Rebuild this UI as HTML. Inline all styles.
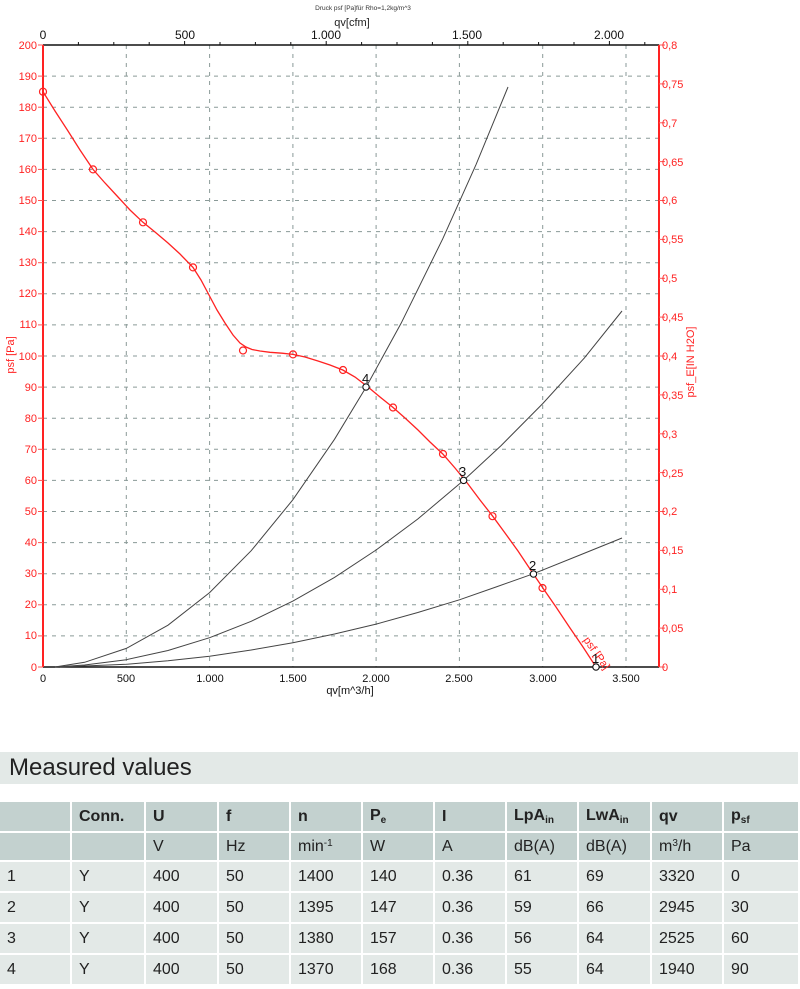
<!DOCTYPE html>
<html><head><meta charset="utf-8"><style>
body{margin:0;background:#fff;width:800px;height:989px;overflow:hidden;font-family:"Liberation Sans",sans-serif}
svg text{font-family:"Liberation Sans",sans-serif}
.title{position:absolute;left:0;top:752px;width:798px;height:32px;background:#e3e9e7;font-size:24px;line-height:32px;color:#222;font-family:"Liberation Sans Narrow","Liberation Sans",sans-serif}
.title span{padding-left:9px}
table{position:absolute;left:0;top:802px;border-collapse:separate;border-spacing:2px;margin:-2px;font-size:16px;color:#222;font-family:"Liberation Sans Narrow","Liberation Sans",sans-serif}
td{padding:0 0 0 7px;height:29px;vertical-align:middle}
tr.h td{background:#c3d1cf;font-weight:bold;height:29px}
tr.u td{background:#c3d1cf;height:27px}
tr.d td{background:#e3e9e7}
sub{font-size:10px;vertical-align:-3px}
sup{font-size:10px;vertical-align:5px}
</style></head><body>
<svg width="800" height="740" style="position:absolute;left:0;top:0">
<text x="363" y="10" font-size="6.5" fill="#333" text-anchor="middle">Druck psf  [Pa]für Rho=1,2kg/m^3</text>
<text x="352" y="26" font-size="11" fill="#222" text-anchor="middle">qv[cfm]</text>
<g stroke="#8a9a98" stroke-width="1" stroke-dasharray="4,5">
<line x1="126.3" y1="45" x2="126.3" y2="667"/><line x1="209.6" y1="45" x2="209.6" y2="667"/><line x1="292.9" y1="45" x2="292.9" y2="667"/><line x1="376.1" y1="45" x2="376.1" y2="667"/><line x1="459.4" y1="45" x2="459.4" y2="667"/><line x1="542.7" y1="45" x2="542.7" y2="667"/><line x1="626" y1="45" x2="626" y2="667"/>
<line x1="43" y1="76.1" x2="658" y2="76.1"/><line x1="43" y1="107.2" x2="658" y2="107.2"/><line x1="43" y1="138.3" x2="658" y2="138.3"/><line x1="43" y1="169.4" x2="658" y2="169.4"/><line x1="43" y1="200.5" x2="658" y2="200.5"/><line x1="43" y1="231.6" x2="658" y2="231.6"/><line x1="43" y1="262.7" x2="658" y2="262.7"/><line x1="43" y1="293.8" x2="658" y2="293.8"/><line x1="43" y1="324.9" x2="658" y2="324.9"/><line x1="43" y1="356" x2="658" y2="356"/><line x1="43" y1="387.1" x2="658" y2="387.1"/><line x1="43" y1="418.2" x2="658" y2="418.2"/><line x1="43" y1="449.3" x2="658" y2="449.3"/><line x1="43" y1="480.4" x2="658" y2="480.4"/><line x1="43" y1="511.5" x2="658" y2="511.5"/><line x1="43" y1="542.6" x2="658" y2="542.6"/><line x1="43" y1="573.7" x2="658" y2="573.7"/><line x1="43" y1="604.8" x2="658" y2="604.8"/><line x1="43" y1="635.9" x2="658" y2="635.9"/>
</g>
<line x1="43" y1="45" x2="659" y2="45" stroke="#111" stroke-width="1.5"/>
<line x1="43" y1="667" x2="659" y2="667" stroke="#111" stroke-width="1.5"/>
<g stroke="#111" stroke-width="1">
<line x1="78.4" y1="42" x2="78.4" y2="45"/><line x1="113.8" y1="42" x2="113.8" y2="45"/><line x1="149.2" y1="42" x2="149.2" y2="45"/><line x1="184.6" y1="41" x2="184.6" y2="45"/><line x1="220" y1="42" x2="220" y2="45"/><line x1="255.4" y1="42" x2="255.4" y2="45"/><line x1="290.8" y1="42" x2="290.8" y2="45"/><line x1="326.2" y1="41" x2="326.2" y2="45"/><line x1="361.6" y1="42" x2="361.6" y2="45"/><line x1="397" y1="42" x2="397" y2="45"/><line x1="432.4" y1="42" x2="432.4" y2="45"/><line x1="467.8" y1="41" x2="467.8" y2="45"/><line x1="503.2" y1="42" x2="503.2" y2="45"/><line x1="538.6" y1="42" x2="538.6" y2="45"/><line x1="574" y1="42" x2="574" y2="45"/><line x1="609.4" y1="41" x2="609.4" y2="45"/><line x1="644.8" y1="42" x2="644.8" y2="45"/>
</g>
<g font-size="12" fill="#111" text-anchor="middle">
<text x="43" y="39">0</text><text x="185" y="39">500</text><text x="326" y="39">1.000</text><text x="467" y="39">1.500</text><text x="609" y="39">2.000</text>
<text x="43" y="682" font-size="11">0</text><text x="126" y="682" font-size="11">500</text><text x="210" y="682" font-size="11">1.000</text><text x="293" y="682" font-size="11">1.500</text><text x="376" y="682" font-size="11">2.000</text><text x="459" y="682" font-size="11">2.500</text><text x="543" y="682" font-size="11">3.000</text><text x="626" y="682" font-size="11">3.500</text>
<text x="350" y="694" font-size="11">qv[m^3/h]</text>
</g>
<line x1="43" y1="45" x2="43" y2="667" stroke="#f22" stroke-width="2"/>
<line x1="659" y1="45" x2="659" y2="667" stroke="#f22" stroke-width="2"/>
<g stroke="#f55" stroke-width="1">
<line x1="38" y1="45" x2="43" y2="45"/><line x1="38" y1="76.1" x2="43" y2="76.1"/><line x1="38" y1="107.2" x2="43" y2="107.2"/><line x1="38" y1="138.3" x2="43" y2="138.3"/><line x1="38" y1="169.4" x2="43" y2="169.4"/><line x1="38" y1="200.5" x2="43" y2="200.5"/><line x1="38" y1="231.6" x2="43" y2="231.6"/><line x1="38" y1="262.7" x2="43" y2="262.7"/><line x1="38" y1="293.8" x2="43" y2="293.8"/><line x1="38" y1="324.9" x2="43" y2="324.9"/><line x1="38" y1="356" x2="43" y2="356"/><line x1="38" y1="387.1" x2="43" y2="387.1"/><line x1="38" y1="418.2" x2="43" y2="418.2"/><line x1="38" y1="449.3" x2="43" y2="449.3"/><line x1="38" y1="480.4" x2="43" y2="480.4"/><line x1="38" y1="511.5" x2="43" y2="511.5"/><line x1="38" y1="542.6" x2="43" y2="542.6"/><line x1="38" y1="573.7" x2="43" y2="573.7"/><line x1="38" y1="604.8" x2="43" y2="604.8"/><line x1="38" y1="635.9" x2="43" y2="635.9"/><line x1="38" y1="667" x2="43" y2="667"/>
<line x1="659" y1="45" x2="665" y2="45"/><line x1="659" y1="83.9" x2="665" y2="83.9"/><line x1="659" y1="122.8" x2="665" y2="122.8"/><line x1="659" y1="161.6" x2="665" y2="161.6"/><line x1="659" y1="200.5" x2="665" y2="200.5"/><line x1="659" y1="239.4" x2="665" y2="239.4"/><line x1="659" y1="278.3" x2="665" y2="278.3"/><line x1="659" y1="317.1" x2="665" y2="317.1"/><line x1="659" y1="356" x2="665" y2="356"/><line x1="659" y1="394.9" x2="665" y2="394.9"/><line x1="659" y1="433.8" x2="665" y2="433.8"/><line x1="659" y1="472.6" x2="665" y2="472.6"/><line x1="659" y1="511.5" x2="665" y2="511.5"/><line x1="659" y1="550.4" x2="665" y2="550.4"/><line x1="659" y1="589.3" x2="665" y2="589.3"/><line x1="659" y1="628.1" x2="665" y2="628.1"/><line x1="659" y1="667" x2="665" y2="667"/>
</g>
<g font-size="11" fill="#f22" text-anchor="end">
<text x="37" y="49">200</text><text x="37" y="80">190</text><text x="37" y="111">180</text><text x="37" y="142">170</text><text x="37" y="173">160</text><text x="37" y="204">150</text><text x="37" y="235">140</text><text x="37" y="266">130</text><text x="37" y="297">120</text><text x="37" y="328">110</text><text x="37" y="360">100</text><text x="37" y="391">90</text><text x="37" y="422">80</text><text x="37" y="453">70</text><text x="37" y="484">60</text><text x="37" y="515">50</text><text x="37" y="546">40</text><text x="37" y="577">30</text><text x="37" y="608">20</text><text x="37" y="639">10</text><text x="37" y="671">0</text>
</g>
<g font-size="11" fill="#f22">
<text x="662" y="49">0,8</text><text x="662" y="88">0,75</text><text x="662" y="127">0,7</text><text x="662" y="166">0,65</text><text x="662" y="204">0,6</text><text x="662" y="243">0,55</text><text x="662" y="282">0,5</text><text x="662" y="321">0,45</text><text x="662" y="360">0,4</text><text x="662" y="399">0,35</text><text x="662" y="438">0,3</text><text x="662" y="477">0,25</text><text x="662" y="515">0,2</text><text x="662" y="554">0,15</text><text x="662" y="593">0,1</text><text x="662" y="632">0,05</text><text x="662" y="671">0</text>
</g>
<text transform="translate(14,355) rotate(-90)" font-size="11" fill="#f22" text-anchor="middle">psf [Pa]</text>
<text transform="translate(694,362) rotate(-90)" font-size="11" fill="#f22" text-anchor="middle">psf_E[IN H2O]</text>
<g fill="none" stroke="#444" stroke-width="1">
<polyline points="55,667 84.6,662.3 126.3,648.4 168,625.2 209.6,592.6 251.2,550.7 292.9,499.7 334.5,439.3 366.1,387.1 401.1,323.3 442.8,238.7 476.1,164.4 508,87"/>
<polyline points="55,667 84.6,665 126.3,659.7 168,650.5 209.6,637.7 251.2,621.3 292.9,601.1 334.5,577.4 376.1,550 417.8,519 463.6,480.4 501.1,445.6 542.7,403.6 584.4,357.9 622,311"/>
<polyline points="60,667 126.3,664.3 168,660.8 209.6,656.2 251.2,650 292.9,642.8 334.5,634 376.1,624.1 417.8,612.5 459.4,599.8 496,587 533.6,573.7 580,555 622,538"/>
</g>
<polyline fill="none" stroke="#f22" stroke-width="1.3" points="43,91.7 55,111 68,131 80,150 93,169.4 105,183 118,197 130,210 143,222.3 155,232 168,243 180,254 193,267.4 201,280 209,295 217,310 225,323 233,335 240,343 246,347 252,349.5 260,351 270,352.3 282,353.2 292.9,354.4 305,357 318,361 330,365 342.8,370 355,377 368,387 380,397 392.8,407.3 405,418 418,430 430,442 442.8,454 455,468 468,484 480,500 492.7,516.2 505,533 518,551 530,569 542.7,587.7 556,607 570,628 583,647 596,667"/>
<g fill="none" stroke="#f22" stroke-width="1.2">
<circle cx="43" cy="91.7" r="3.5"/><circle cx="93" cy="169.4" r="3.5"/><circle cx="143" cy="222.3" r="3.5"/><circle cx="193" cy="267.4" r="3.5"/><circle cx="243" cy="350.5" r="3.5"/><circle cx="293" cy="354.4" r="3.5"/><circle cx="343" cy="370" r="3.5"/><circle cx="393" cy="407.5" r="3.5"/><circle cx="443" cy="454" r="3.5"/><circle cx="492.5" cy="516.2" r="3.5"/><circle cx="542.5" cy="588" r="3.5"/>
</g>
<text transform="translate(583,640) rotate(55)" font-size="11" fill="#f22">psf [Pa]</text>
<g fill="#fff" stroke="#111" stroke-width="1.1">
<circle cx="366" cy="387" r="3.2"/><circle cx="463.6" cy="480.4" r="3.2"/><circle cx="533.5" cy="574" r="3.2"/><circle cx="596" cy="667" r="3.2"/>
</g>
<g font-size="13" fill="#111">
<text x="362" y="383">4</text><text x="459" y="476">3</text><text x="529" y="570">2</text><text x="592" y="663">1</text>
</g>
</svg>
<div class="title"><span>Measured values</span></div>
<table>
<tr class="h"><td style="width:63px"></td><td style="width:65px">Conn.</td><td style="width:64px">U</td><td style="width:63px">f</td><td style="width:63px">n</td><td style="width:63px">P<sub>e</sub></td><td style="width:63px">I</td><td style="width:63px">LpA<sub>in</sub></td><td style="width:64px">LwA<sub>in</sub></td><td style="width:63px">qv</td><td style="width:67px">p<sub>sf</sub></td></tr>
<tr class="u"><td></td><td></td><td>V</td><td>Hz</td><td>min<sup>-1</sup></td><td>W</td><td>A</td><td>dB(A)</td><td>dB(A)</td><td>m<sup>3</sup>/h</td><td>Pa</td></tr>
<tr class="d"><td>1</td><td>Y</td><td>400</td><td>50</td><td>1400</td><td>140</td><td>0.36</td><td>61</td><td>69</td><td>3320</td><td>0</td></tr>
<tr class="d"><td>2</td><td>Y</td><td>400</td><td>50</td><td>1395</td><td>147</td><td>0.36</td><td>59</td><td>66</td><td>2945</td><td>30</td></tr>
<tr class="d"><td>3</td><td>Y</td><td>400</td><td>50</td><td>1380</td><td>157</td><td>0.36</td><td>56</td><td>64</td><td>2525</td><td>60</td></tr>
<tr class="d"><td>4</td><td>Y</td><td>400</td><td>50</td><td>1370</td><td>168</td><td>0.36</td><td>55</td><td>64</td><td>1940</td><td>90</td></tr>
</table>
</body></html>
